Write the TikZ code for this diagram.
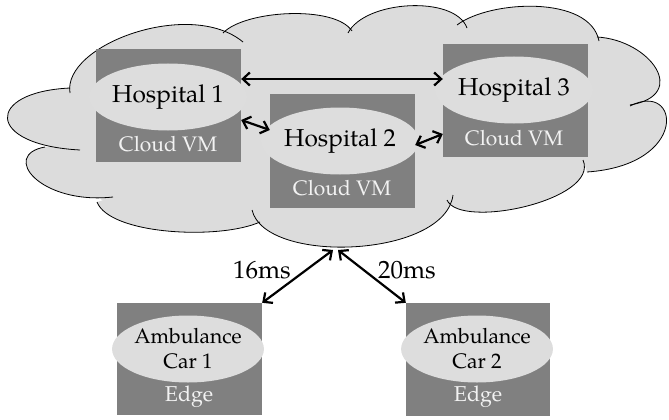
\documentclass[tikz,border=0pt]{standalone}
\usepackage{fontspec}
\setmainfont{TeX Gyre Pagella}
\usetikzlibrary{shapes.geometric,arrows.meta,calc}
\definecolor{boxgray}{HTML}{808080}
\definecolor{lightg}{HTML}{DDDDDD}
\definecolor{cloudg}{HTML}{DCDCDC}
\definecolor{vmtext}{HTML}{F2F2F2}
\newcommand\mylobe[5]{\path[#1] #2 .. controls #3 and #4 .. #5;}
\newcommand\cloudlobes[1]{%
  \mylobe{#1}{(80,150)}{(-15,145)}{(-15,92)}{(70,88)}
  \mylobe{#1}{(70,93)}{(62,45)}{(190,-2)}{(243,42)}
  \mylobe{#1}{(223,33)}{(245,10)}{(335,5)}{(352,31)}
  \mylobe{#1}{(348,33)}{(365,0)}{(455,-5)}{(467,28)}
  \mylobe{#1}{(457,25)}{(490,0)}{(590,-5)}{(599,41)}
  \mylobe{#1}{(597,37)}{(650,40)}{(690,95)}{(630,105)}
  \mylobe{#1}{(630,106)}{(680,80)}{(690,165)}{(587,172)}
  \mylobe{#1}{(583,160)}{(600,200)}{(460,230)}{(447,200)}
  \mylobe{#1}{(453,195)}{(445,258)}{(265,265)}{(252,210)}
  \mylobe{#1}{(260,222)}{(220,240)}{(110,235)}{(97,202)}
  \mylobe{#1}{(113,197)}{(40,205)}{(0,155)}{(45,147)}
}
\begin{document}
\begin{tikzpicture}[x=1pt,y=-1pt,
  vmbox/.style={rectangle,fill=boxgray,minimum width=145pt,minimum height=113pt,inner sep=0pt},
  oval/.style={ellipse,fill=lightg,minimum width=134pt,minimum height=67pt,inner sep=0pt,align=center},
  hosp/.style={font=\fontsize{24.5}{29}\selectfont},
  amb/.style={font=\fontsize{21}{25}\selectfont},
  vmlabel/.style={text=vmtext,font=\fontsize{21}{25}\selectfont,inner sep=0pt},
  link/.style={line width=2.2pt,{Straight Barb[length=7pt,width=13pt]}-{Straight Barb[length=7pt,width=13pt]}},
  lobe/.style={draw=black,line width=0.8pt},
  mslabel/.style={font=\fontsize{25}{30}\selectfont}]
\useasboundingbox (0,0) rectangle (669,420);
% cloud fill as one closed outline
\fill[cloudg] (80,150) .. controls (-15,145) and (-15,92) .. (70,88)
  -- (70,93) .. controls (62,45) and (190,-2) .. (243,42)
  -- (223,33) .. controls (245,10) and (335,5) .. (352,31)
  -- (348,33) .. controls (365,0) and (455,-5) .. (467,28)
  -- (457,25) .. controls (490,0) and (590,-5) .. (599,41)
  -- (597,37) .. controls (650,40) and (690,95) .. (630,105)
  -- (630,106) .. controls (680,80) and (690,165) .. (587,172)
  -- (583,160) .. controls (600,200) and (460,230) .. (447,200)
  -- (453,195) .. controls (445,258) and (265,265) .. (252,210)
  -- (260,222) .. controls (220,240) and (110,235) .. (97,202)
  -- (113,197) .. controls (40,205) and (0,155) .. (45,147) -- cycle;
\fill[cloudg] (70,95) -- (232,40) -- (350,34) -- (460,29) -- (596,42) -- (626,106)
  -- (582,166) -- (449,200) -- (255,214) -- (102,200) -- (48,148) -- cycle;
\cloudlobes{lobe}
% hospital boxes
\node[vmbox] (b1) at (168.5,105.5) {};
\node[oval,hosp] (e1) at (168,97) {Hospital 1};
\node[vmlabel] (v1) at (168,144) {Cloud VM};
\node[vmbox,minimum height=114pt] (b2) at (342.5,151) {};
\node[oval,hosp] (e2) at (340,141) {Hospital 2};
\node[vmlabel] (v2) at (342,188) {Cloud VM};
\node[vmbox] (b3) at (515.5,100.5) {};
\node[oval,hosp] (e3) at (514,90) {Hospital 3};
\node[vmlabel] (v3) at (514,138) {Cloud VM};
% ambulance boxes
\node[vmbox,minimum height=112pt] (a1) at (189.5,359) {};
\node[oval,amb] (ea1) at (188,349) {Ambulance\\Car 1};
\node[vmlabel,font=\fontsize{21.5}{25}\selectfont] (ed1) at (189,397) {Edge};
\node[vmbox,minimum width=144pt] (a2) at (478,359.5) {};
\node[oval,amb] (ea2) at (477,349) {Ambulance\\Car 2};
\node[vmlabel,font=\fontsize{21.5}{25}\selectfont] (ed2) at (478,397) {Edge};
% links
\draw[link] ([yshift=26.5pt]b1.east) -- ([yshift=21.5pt]b3.west);
\draw[link] ([yshift=-14.5pt]b1.east) -- ([yshift=21pt]b2.west);
\draw[link] ([yshift=6pt]b2.east) -- ([yshift=-33.5pt]b3.west);
\coordinate (cbl) at (333,250);
\coordinate (cbr) at (338,250);
\draw[link] (cbl) -- (a1.north east);
\draw[link] (cbr) -- (a2.north west);
\node[mslabel] (l16) at (262,270) {16ms};
\node[mslabel] (l20) at (407,270) {20ms};
\end{tikzpicture}
\end{document}
